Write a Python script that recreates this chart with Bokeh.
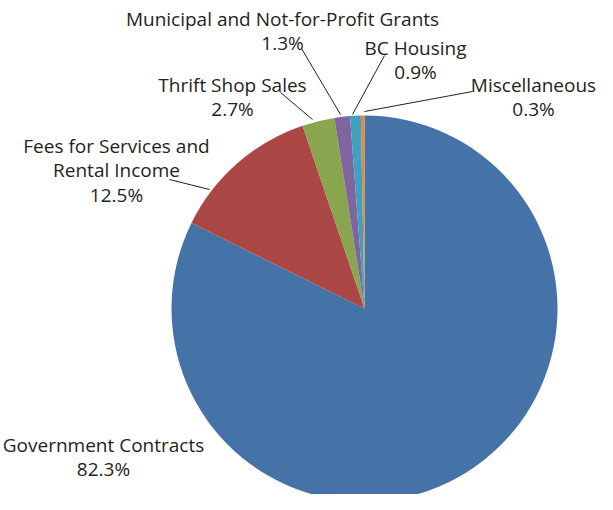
from bokeh.plotting import figure
from bokeh.models import Range1d, ColumnDataSource
from bokeh.embed import file_html
from bokeh.resources import INLINE
from bokeh.core.properties import value
import math

# ---- data ----
categories = ["Government Contracts", "Fees for Services and Rental Income",
              "Thrift Shop Sales", "Municipal and Not-for-Profit Grants",
              "BC Housing", "Miscellaneous"]
shares = [82.3, 12.5, 2.7, 1.3, 0.9, 0.3]
pct_labels = ["82.3%", "12.5%", "2.7%", "1.3%", "0.9%", "0.3%"]
colors = ["#4573A7", "#AA4643", "#89A54E", "#7F64A0", "#3FA0C0", "#E08A3A"]

# ---- layout (screen pixels of the 613x510 window) ----
W, H = 597, 494
OFF = 8
def sx(X): return X - OFF
def sy(Y): return (H + OFF) - Y

center_screen = (372, 316)
radius = 193

# label lines: name split for layout, anchor x, first baseline
label_lines = [["Government Contracts"], ["Fees for Services and", "Rental Income"],
               ["Thrift Shop Sales"], ["Municipal and Not-for-Profit Grants"],
               ["BC Housing"], ["Miscellaneous"]]
label_x = [111, 124, 240, 290, 423, 541]
label_y0 = [452, 153, 92, 26, 55, 92]
line_gap = 24.5

# leader lines (screen): from label to pie edge
leaders = [None, ((177, 187), (217, 197)), ((288, 100), (320, 127)),
           ((309, 56), (348, 122)), ((392, 63), (360, 122)), ((480, 99), (372, 119))]

p = figure(width=W, height=H, output_backend="svg", toolbar_location=None,
           x_range=Range1d(0, W), y_range=Range1d(0, H), min_border=0)
p.axis.visible = False
p.grid.visible = False
p.outline_line_color = None
p.background_fill_color = "white"
p.border_fill_color = "white"

# wedges, clockwise from 12 o'clock
total = sum(shares)
starts, ends = [], []
cum = 0.0
for s in shares:
    starts.append(math.pi / 2 - 2 * math.pi * cum / total)
    cum += s
    ends.append(math.pi / 2 - 2 * math.pi * cum / total)
src = ColumnDataSource(dict(start=starts, end=ends, color=colors,
                            name=categories, share=shares))
p.wedge(x=sx(center_screen[0]), y=sy(center_screen[1]), radius=radius,
        radius_units="screen", start_angle="start", end_angle="end",
        direction="clock", fill_color="color", line_color=None, source=src)

# leader lines
for ld in leaders:
    if ld is None:
        continue
    (x0, y0), (x1, y1) = ld
    p.line([sx(x0), sx(x1)], [sy(y0), sy(y1)], line_color="#231F20", line_width=1)

# labels
tx, ty, tt = [], [], []
for lines, x, y0, pct in zip(label_lines, label_x, label_y0, pct_labels):
    for i, t in enumerate(lines + [pct]):
        tx.append(sx(x))
        ty.append(sy(y0 + i * line_gap))
        tt.append(t)
p.text(x=tx, y=ty, text=tt, text_align="center", text_baseline="alphabetic",
       text_font=value("Open Sans"), text_font_size="19px", text_color="#231F20")

open("out.html", "w").write(file_html(p, INLINE))
